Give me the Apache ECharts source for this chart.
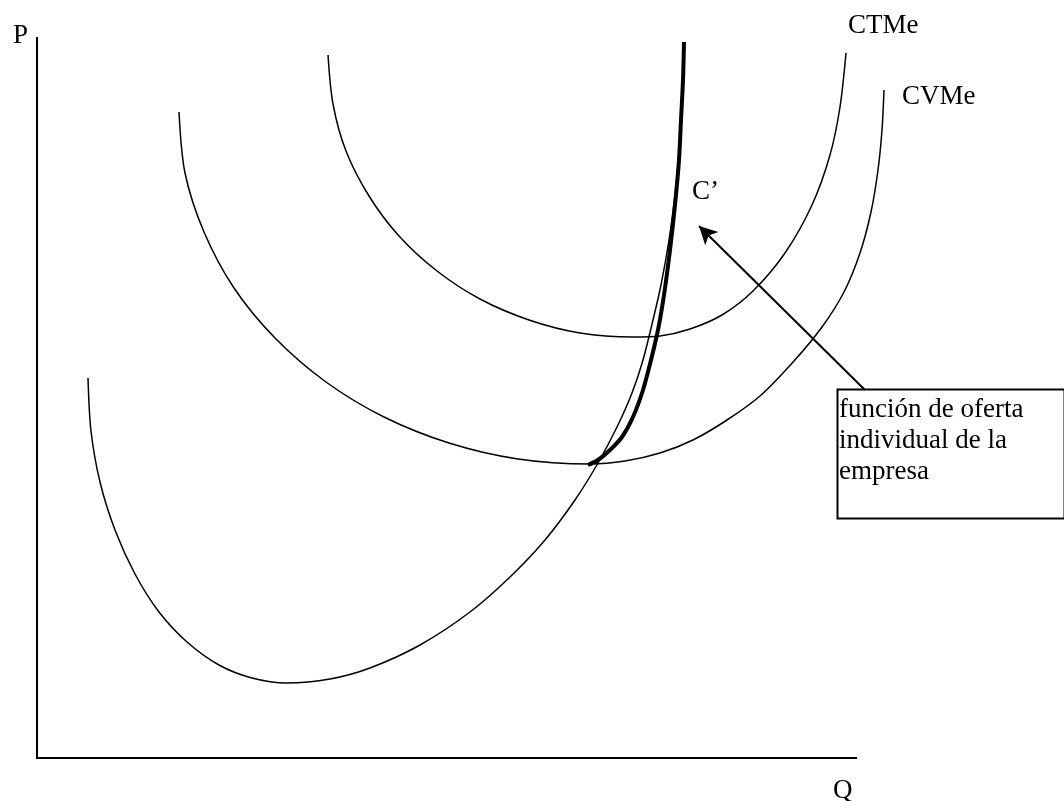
<!DOCTYPE html>
<html>
<head>
<meta charset="utf-8">
<script src="https://cdn.jsdelivr.net/npm/echarts@6/dist/echarts.min.js"></script>
<style>html,body{margin:0;padding:0;background:#fff}#c{width:1064px;height:801px}</style>
</head>
<body>
<div id="c"></div>
<script>
// Axes extents and curves as [Q, P] pairs
var ejeQ = [[0,0],[820,0]];
var ejeP = [[0,-2],[0,721]];
var costeMarginal = [[51,380],[54,327],[63,276],[78,228],[98,184],[122,146],[150,116],[182,93],[215,80],[250,75],[293,79],[333,90],[383,113],[433,146],[473,181],[508,218],[538,258],[561,295],[580,331],[595,365],[606,398],[616,438],[624,473],[632,518],[638,563],[642,608],[645,658],[647,716]];
var ofertaEmpresa = [[551,293],[561,298],[573,308],[585,321],[596,341],[606,368],[614,398],[621,428],[627,463],[633,508],[638,553],[642,598],[644,638],[646,678],[647,716]];
var cvme = [[142,646],[148,585],[167,526],[197,470],[238,420],[289,376],[347,341],[412,315],[481,299],[553,294],[588,297],[623,305],[656,318],[690,338],[723,362],[757,397],[785,431],[807,466],[823,505],[834,546],[841,588],[845,628],[847,668]];
var ctme = [[291,703],[296,654],[309,607],[332,562],[362,522],[400,487],[443,459],[492,438],[543,425],[596,421],[623,422],[653,429],[685,443],[716,467],[748,505],[775,553],[793,603],[803,651],[809,705]];
var flecha = [[828,368],[662,532]];
var textoCaja = ['función de oferta', 'individual de la', 'empresa'];
var etiquetas = {P: 'P', Q: 'Q', CTMe: 'CTMe', CVMe: 'CVMe', C: 'C\u2019'};

var FONT = "'Liberation Serif','Times New Roman',serif";
var chart = echarts.init(document.getElementById('c'));
function curve(name, data, w, smooth) {
  return {name: name, type: 'line', data: data, smooth: smooth, symbol: 'none',
    lineStyle: {color: '#000', width: w}, silent: true, z: w > 2 ? 3 : 2};
}
function txt(s, x, y) {
  return {type: 'text', left: x, top: y, style: {text: s, font: '27px ' + FONT, fill: '#000'}};
}
var opt = {
  animation: false,
  backgroundColor: '#fff',
  grid: {left: 37, right: 0, top: 37, bottom: 43},
  xAxis: {type: 'value', min: 0, max: 1027, show: false, splitLine: {show: false}},
  yAxis: {type: 'value', min: 0, max: 721, show: false, splitLine: {show: false}},
  series: [
    curve('ejeQ', ejeQ, 2, false),
    curve('ejeP', ejeP, 2, false),
    curve('CMg', costeMarginal, 1.5, 0.3),
    curve('CVMe', cvme, 1.5, 0.3),
    curve('CTMe', ctme, 1.5, 0.3),
    curve('Oferta', ofertaEmpresa, 4, 0.3),
    {type: 'line', data: [], silent: true,
      markLine: {silent: true, symbol: ['none', 'arrow'], symbolSize: [14, 18], animation: false,
        label: {show: false}, emphasis: {disabled: true}, lineStyle: {color: '#000', width: 2, type: 'solid'},
        data: [[{coord: flecha[0]}, {coord: flecha[1]}]]}}
  ],
  graphic: [
    txt(etiquetas.P, 13, 22),
    txt(etiquetas.CTMe, 848, 12),
    txt(etiquetas.CVMe, 902, 83),
    txt(etiquetas.C, 692, 178),
    txt(etiquetas.Q, 833, 777),
    {type: 'rect', left: 835, top: 387, shape: {width: 227, height: 129}, style: {fill: 'none', stroke: '#000', lineWidth: 2}},
    txt(textoCaja[0], 839, 396),
    txt(textoCaja[1], 839, 427),
    txt(textoCaja[2], 839, 458)
  ]
};
chart.setOption(opt);
</script>
</body>
</html>
